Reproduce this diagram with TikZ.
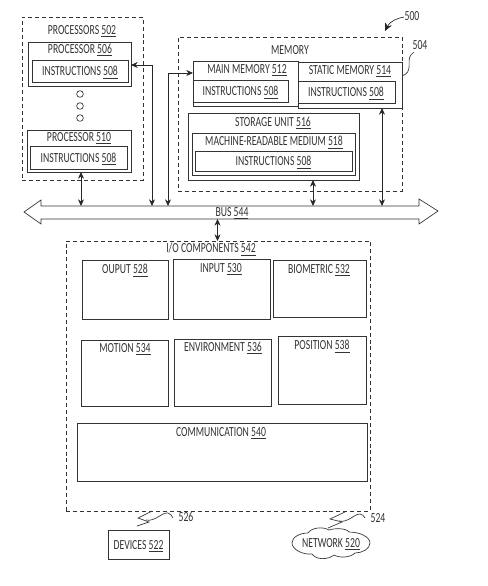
\documentclass[tikz,border=0pt]{standalone}
\usepackage{fontspec}
\setmainfont[FakeStretch=0.7]{Carlito}
\usetikzlibrary{fit,arrows.meta}
\definecolor{ink}{HTML}{333333}
\newcommand{\num}[1]{\underline{#1}}
\tikzset{
  x=0.75pt,y=-0.75pt,
  every node/.style={text=ink,font=\fontsize{10.4}{11}\selectfont,inner sep=0pt,outer sep=0pt},
  lab/.style={yshift=-1.1pt},
  solidbox/.style={draw=ink,line width=0.65pt},
  dashbox/.style={draw=ink,line width=0.6pt,dash pattern=on 3pt off 2.2pt},
  link/.style={draw=black!85,line width=0.5pt,{Stealth[length=5pt,width=4.5pt]}-{Stealth[length=5pt,width=4.5pt]}},
  leaderline/.style={draw=ink,line width=0.5pt},
}
\newcommand{\bx}[6][solidbox]{\node[#1,fit={(#3,#4)(#5,#6)}] (#2) {};}
\begin{document}
\begin{tikzpicture}
\useasboundingbox (0,0) rectangle (487,586);
% containers
\bx[dashbox]{procs}{22}{17}{143}{180}
\bx[dashbox]{mem}{178}{37}{402}{191}
\bx[dashbox]{io}{66}{241}{370}{511}
% processors
\bx{p506}{28}{42}{131}{86}
\bx{i506}{32}{60}{128}{82}
\bx{p510}{27}{130}{131}{172}
\bx{i510}{30}{146}{127}{169}
\node[draw=ink,circle,minimum size=5pt,line width=0.5pt] (c1) at (80,94) {};
\node[draw=ink,circle,minimum size=5pt,line width=0.5pt] (c2) at (80,106) {};
\node[draw=ink,circle,minimum size=5pt,line width=0.5pt] (c3) at (80,118) {};
% memory
\bx{mm}{193}{61}{298}{106}
\bx{imm}{193}{80}{288}{102}
\bx{sm}{298}{62}{402}{108}
\bx{ism}{298}{81}{395}{103}
\bx{su}{188}{113}{359}{180}
\bx{mr}{192}{133}{355}{175}
\bx{imr}{195}{151}{352}{171}
% io
\bx{o528}{82}{260}{168}{319}
\bx{i530}{173}{259}{270}{319}
\bx{b532}{273}{260}{366}{317}
\bx{m534}{81}{340}{168}{406}
\bx{e536}{174}{339}{271}{406}
\bx{p538}{278}{336}{366}{404}
\bx{c540}{77}{423}{367}{481}
\bx[solidbox,line width=0.5pt]{dev}{108}{530}{169}{559}
% bus
\draw[leaderline,fill=white] (24,212) -- (41,200) -- (41,206) -- (419,206) -- (419,199) -- (438,211) -- (419,224) -- (419,219) -- (41,219) -- (41,224) -- cycle;
\node[fit={(41,206)(419,219)}] (bus) {};
% network cloud
\draw[leaderline] (292,543) .. controls (292,537) and (300,533) .. (308,533) .. controls (311,528) and (322,526) .. (329,530) .. controls (335,528) and (346,528) .. (349,532) .. controls (360,532) and (370,537) .. (370,543) .. controls (370,549) and (362,553) .. (355,553) .. controls (350,558) and (339,558) .. (334,555) .. controls (328,560) and (316,560) .. (312,554) .. controls (302,555) and (292,549) .. (292,543) -- cycle;
% labels
\node[lab] at (82,30) {PROCESSORS \num{502}};
\node[lab] at (80,49) {PROCESSOR \num{506}};
\node[lab] at (i506) {INSTRUCTIONS \num{508}};
\node[lab] at (79,137) {PROCESSOR \num{510}};
\node[lab] at (i510) {INSTRUCTIONS \num{508}};
\node[lab] at (290,49) {MEMORY};
\node[lab] at (247,69) {MAIN MEMORY \num{512}};
\node[lab] at (imm) {INSTRUCTIONS \num{508}};
\node[lab] at (350,70) {STATIC MEMORY \num{514}};
\node[lab] at (346,92) {INSTRUCTIONS \num{508}};
\node[lab] at (273,122) {STORAGE UNIT \num{516}};
\node[lab] at (274,141) {MACHINE-READABLE MEDIUM \num{518}};
\node[lab] at (imr) {INSTRUCTIONS \num{508}};
\node[lab] at (232,212) {BUS \num{544}};
\node[lab] at (211,248) {I/O COMPONENTS \num{542}};
\node[lab] at (125,269) {OUPUT \num{528}};
\node[lab] at (221,268) {INPUT \num{530}};
\node[lab] at (319,269) {BIOMETRIC \num{532}};
\node[lab] at (125,348) {MOTION \num{534}};
\node[lab] at (223,347) {ENVIRONMENT \num{536}};
\node[lab] at (322,345) {POSITION \num{538}};
\node[lab] at (221,432) {COMMUNICATION \num{540}};
\node[lab] at (dev) {DEVICES \num{522}};
\node[lab] (net) at (331,543) {NETWORK \num{520}};
\node (l500) at (412,16) {500};
\node (l504) at (420,45) {504};
\node (l526) at (186,517) {526};
\node (l524) at (378,518) {524};
% connectors
\coordinate (a1) at (81,172);
\draw[link] (a1) -- (a1 |- bus.north);
\coordinate (a2) at (131,65);
\coordinate (a2b) at (152,65);
\draw[link] (a2) -- (a2b) -- (a2b |- bus.north);
\coordinate (a3) at (193,73);
\coordinate (a3b) at (168,73);
\draw[link] (a3) -- (a3b) -- (a3b |- bus.north);
\coordinate (a4) at (313,180);
\draw[link] (a4) -- (a4 |- bus.north);
\coordinate (a5) at (382,108);
\draw[link] (a5) -- (a5 |- bus.north);
\coordinate (a6) at (217.5,219);
\draw[link] (a6) -- (a6 |- io.north);
% leaders
\coordinate (t500) at (385,31);
\draw[draw=black!85,line width=0.5pt,-{Stealth[length=6pt,width=5.5pt]}] (404,17) .. controls (398,18) and (390,21) .. (t500);
\draw[leaderline] (402,76) .. controls (414,72) and (406,60) .. (411,55) .. controls (412,54) and (413,53) .. (414,52);
\draw[leaderline] (152,511) -- (138,518) -- (149,522) -- (137,526);
\draw[leaderline] (146,520) .. controls (155,522) and (162,512) .. (168,513) .. controls (170,513) and (172,516) .. (173,518);
\draw[leaderline] (345,512) -- (330,519) -- (342,522) -- (328,528);
\draw[leaderline] (339,521) .. controls (348,523) and (354,514) .. (360,514) .. controls (362,514) and (364,516) .. (365,518);
\end{tikzpicture}
\end{document}
